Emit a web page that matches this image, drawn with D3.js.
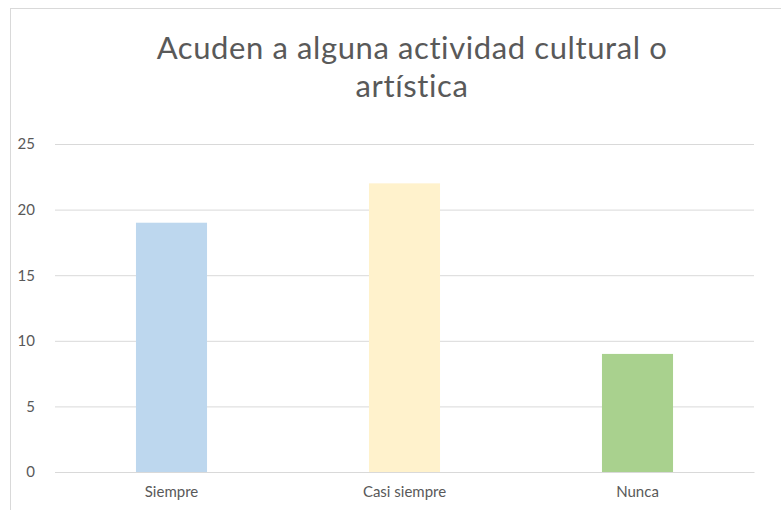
<!DOCTYPE html>
<html><head><meta charset="utf-8">
<script src="https://cdn.jsdelivr.net/npm/d3@7"></script>
<style>body{margin:0;background:#fff}</style>
</head><body>
<svg id="c" width="781" height="510"></svg>
<script>
const categories = ["Siempre", "Casi siempre", "Nunca"];
const values = [19, 22, 9];
const colors = ["#BDD7EE", "#FFF2CC", "#A9D18E"];
const yTicks = [0, 5, 10, 15, 20, 25];
const titleLines = ["Acuden a alguna actividad cultural o", "artística"];

const svg = d3.select("#c");
// chart frame
svg.append("rect").attr("x", 10.5).attr("y", 8.5).attr("width", 800).attr("height", 560)
  .attr("fill", "#fff").attr("stroke", "#d9d9d9");

const m = {left: 55, right: 754, top: 144, bottom: 472};
const x = d3.scaleBand().domain(categories).range([m.left, m.right]).paddingInner(0.695).paddingOuter(0.3475);
const y = d3.scaleLinear().domain([0, 25]).range([m.bottom, m.top]);

// gridlines
const ya = d3.axisLeft(y).tickValues(yTicks).tickSize(-(m.right - m.left)).tickPadding(20);
const gy = svg.append("g").attr("transform", `translate(${m.left},0)`).call(ya);
gy.select(".domain").remove();
gy.selectAll(".tick line").attr("stroke", "#d9d9d9");
gy.selectAll(".tick text").attr("fill", "#595959").style("font-family", "Lato, sans-serif").style("font-size", "15px");

svg.append("g").selectAll("rect").data(categories).join("rect")
  .attr("x", d => x(d)).attr("width", x.bandwidth())
  .attr("y", (d, i) => y(values[i])).attr("height", (d, i) => y(0) - y(values[i]))
  .attr("fill", (d, i) => colors[i]);

const xa = d3.axisBottom(x).tickSize(0).tickPadding(14);
const gx = svg.append("g").attr("transform", `translate(0,${m.bottom})`).call(xa);
gx.select(".domain").attr("stroke", "#d9d9d9");
gx.selectAll(".tick text").attr("fill", "#595959").style("font-family", "Lato, sans-serif").style("font-size", "15px");

svg.append("g").selectAll("text").data(titleLines).join("text")
  .attr("x", 412).attr("y", (d, i) => 59 + i * 38)
  .attr("text-anchor", "middle").attr("fill", "#595959")
  .style("font-family", "Lato, sans-serif").style("font-size", "31px").style("letter-spacing", "0.6px")
  .text(d => d);
</script>
</body></html>
